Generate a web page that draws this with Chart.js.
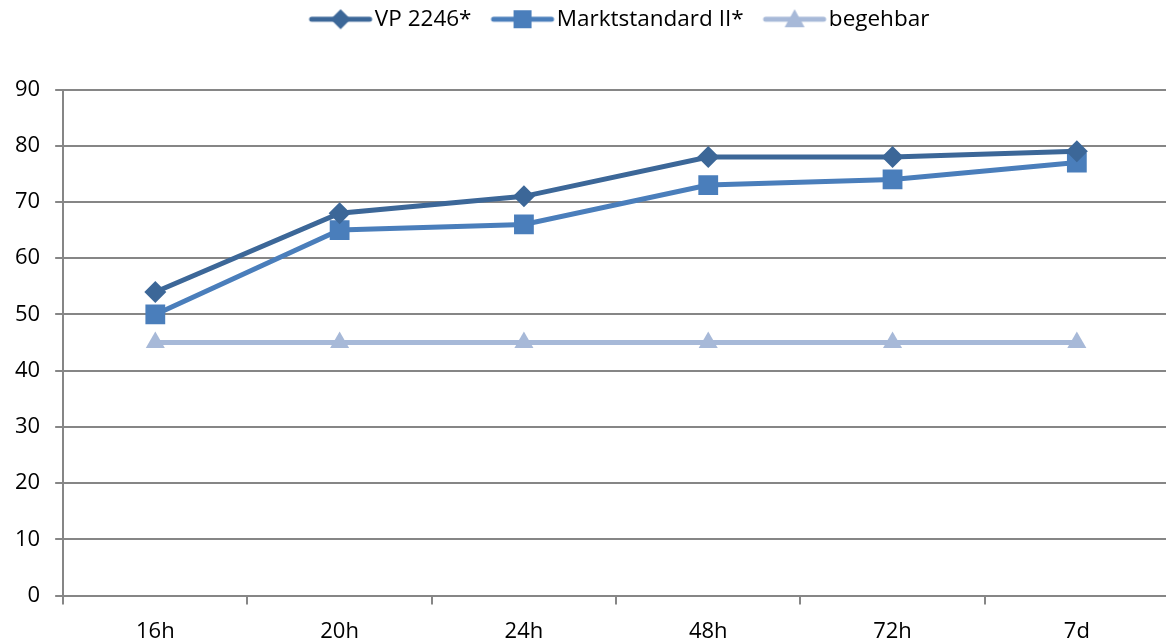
<!DOCTYPE html>
<html>
<head>
<meta charset="utf-8">
<script src="https://cdn.jsdelivr.net/npm/chart.js@4"></script>
<style>
  html, body { margin: 0; padding: 0; background: #fff; overflow: hidden; }
  #wrap { width: 1166px; height: 643px; overflow: hidden; }
</style>
</head>
<body>
<div id="wrap"><canvas id="chart" width="1183" height="659"></canvas></div>
<script>
const categories = ['16h', '20h', '24h', '48h', '72h', '7d'];
const vpValues = [54, 68, 71, 78, 78, 79];
const marktValues = [50, 65, 66, 73, 74, 77];
const begehbarValues = [45, 45, 45, 45, 45, 45];
const yTicks = [0, 10, 20, 30, 40, 50, 60, 70, 80, 90];

const FONT = '"Open Sans", "Noto Sans", sans-serif';

// legend swatch: line with the marker in the middle (shifted right so the text sits close)
function legendIcon(color, shape, r) {
    const c = document.createElement('canvas');
    c.width = 80;
    c.height = 26;
    const ctx = c.getContext('2d');
    const cx = 46, cy = 13;
    ctx.strokeStyle = color;
    ctx.lineWidth = 5;
    ctx.lineCap = 'round';
    ctx.beginPath();
    ctx.moveTo(17, cy);
    ctx.lineTo(75, cy);
    ctx.stroke();
    ctx.fillStyle = color;
    ctx.beginPath();
    if (shape === 'diamond') {
        ctx.moveTo(cx, cy - r); ctx.lineTo(cx + r, cy); ctx.lineTo(cx, cy + r); ctx.lineTo(cx - r, cy);
    } else if (shape === 'square') {
        ctx.rect(cx - r, cy - r, 2 * r, 2 * r);
    } else {
        ctx.moveTo(cx, cy - r); ctx.lineTo(cx + r, cy + r * 0.8); ctx.lineTo(cx - r, cy + r * 0.8);
    }
    ctx.closePath();
    ctx.fill();
    return c;
}

const colors = ['#3C6798', '#4A7EBB', '#A7B9D8'];
const icons = [
    legendIcon(colors[0], 'diamond', 10),
    legendIcon(colors[1], 'square', 9),
    legendIcon(colors[2], 'triangle', 10)
];

// extra space between legend and plot, legend nudged right and up
const legendGap = {
    id: 'legendGap',
    beforeInit(chart) {
        const fit = chart.legend.fit;
        chart.legend.fit = function () {
            fit.call(this);
            this.height += 41;
        };
    },
    afterLayout(chart) {
        chart.legend.left += 26;
        chart.legend.right += 26;
        chart.legend.top -= 8;
        chart.legend.bottom -= 8;
    }
};

new Chart(document.getElementById('chart'), {
    type: 'line',
    data: {
        labels: categories,
        datasets: [
            {
                label: 'VP 2246*',
                data: vpValues,
                borderColor: colors[0],
                backgroundColor: colors[0],
                borderWidth: 5,
                pointStyle: 'rectRot',
                pointRadius: 11,
                pointBorderWidth: 0
            },
            {
                label: 'Marktstandard II*',
                data: marktValues,
                borderColor: colors[1],
                backgroundColor: colors[1],
                borderWidth: 5,
                pointStyle: 'rect',
                pointRadius: 14,
                pointBorderWidth: 0
            },
            {
                label: 'begehbar',
                data: begehbarValues,
                borderColor: colors[2],
                backgroundColor: colors[2],
                borderWidth: 5,
                pointStyle: 'triangle',
                pointRadius: 11,
                pointBorderWidth: 0
            }
        ]
    },
    options: {
        responsive: false,
        animation: false,
        devicePixelRatio: 1,
        layout: { padding: { left: 0, right: 0, top: 0, bottom: 0 } },
        plugins: {
            tooltip: { enabled: false },
            legend: {
                position: 'top',
                labels: {
                    color: '#000',
                    font: { family: FONT, size: 22.5 },
                    usePointStyle: true,
                    pointStyleWidth: 58,
                    boxHeight: 20,
                    padding: 16,
                    generateLabels: chart => chart.data.datasets.map((ds, i) => ({
                        text: ds.label,
                        pointStyle: icons[i],
                        fillStyle: ds.borderColor,
                        strokeStyle: ds.borderColor,
                        lineWidth: 0,
                        fontColor: '#000',
                        datasetIndex: i
                    }))
                }
            }
        },
        scales: {
            x: {
                offset: true,
                grid: {
                    offset: true,
                    drawOnChartArea: false,
                    drawTicks: true,
                    tickLength: 9,
                    color: '#868686',
                    lineWidth: 2
                },
                border: { color: '#868686', width: 2 },
                ticks: {
                    color: '#000',
                    font: { family: FONT, size: 22 },
                    padding: 14
                }
            },
            y: {
                min: 0,
                max: 90,
                afterBuildTicks: axis => { axis.ticks = yTicks.map(v => ({ value: v })); },
                grid: {
                    color: '#868686',
                    lineWidth: 2,
                    tickLength: 8
                },
                border: { color: '#868686', width: 2 },
                ticks: {
                    color: '#000',
                    font: { family: FONT, size: 22 },
                    padding: 15
                }
            }
        }
    },
    plugins: [legendGap]
});
</script>
</body>
</html>
